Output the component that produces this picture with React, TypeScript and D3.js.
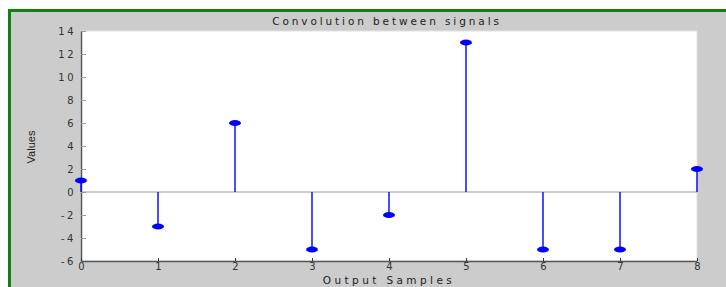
import React, { useRef, useEffect } from "react";
import * as d3 from "d3";

// output sample index and convolution values
const samples = [0, 1, 2, 3, 4, 5, 6, 7, 8];
const values = [1, -3, 6, -5, -2, 13, -5, -5, 2];
const yTicks = [-6, -4, -2, 0, 2, 4, 6, 8, 10, 12, 14];
const xTicks = [0, 1, 2, 3, 4, 5, 6, 7, 8];

const W = 726;
const H = 287;

const App = () => {
  const ref = useRef<SVGSVGElement>(null);

  useEffect(() => {
    const svg = d3.select(ref.current);
    svg.selectAll("*").remove();

    const margin = { top: 31, right: 29, bottom: 26, left: 81 };
    const width = W - margin.left - margin.right;
    const height = H - margin.top - margin.bottom;
    const font = "'DejaVu Sans', Verdana, sans-serif";

    // figure background with green frame
    svg.append("rect").attr("width", W).attr("height", H).attr("fill", "#fff");
    svg
      .append("rect")
      .attr("x", 9.5)
      .attr("y", 10.5)
      .attr("width", W + 10)
      .attr("height", H + 10)
      .attr("fill", "#cccccc")
      .attr("stroke", "#118011")
      .attr("stroke-width", 3);

    const g = svg.append("g").attr("transform", `translate(${margin.left},${margin.top})`);

    const x = d3.scaleLinear().domain([0, 8]).range([0, width]);
    const y = d3.scaleLinear().domain([-6, 14]).range([height, 0]);

    // plot area
    g.append("rect")
      .attr("width", width)
      .attr("height", height)
      .attr("fill", "#fff")
      .attr("stroke", "#e2e2e2");

    // y axis
    const yAxis = g
      .append("g")
      .call(
        d3
          .axisLeft(y)
          .tickValues(yTicks)
          .tickFormat((d) => String(d))
          .tickSizeInner(-5)
          .tickSizeOuter(0)
          .tickPadding(5)
      );
    yAxis.select(".domain").attr("stroke", "#555").attr("stroke-width", 1.5);
    yAxis.selectAll("line").attr("stroke", "#999");
    yAxis
      .selectAll("text")
      .style("font-family", font)
      .style("font-size", "10px")
      .style("letter-spacing", "2.5px")
      .attr("fill", "#333");

    // x axis
    const xAxis = g
      .append("g")
      .attr("transform", `translate(0,${height})`)
      .call(
        d3
          .axisBottom(x)
          .tickValues(xTicks)
          .tickFormat((d) => String(d))
          .tickSizeInner(-3)
          .tickSizeOuter(0)
          .tickPadding(2)
      );
    xAxis.select(".domain").attr("stroke", "#555").attr("stroke-width", 1.5);
    xAxis.selectAll("line").attr("stroke", "#333");
    xAxis
      .selectAll("text")
      .style("font-family", font)
      .style("font-size", "10px")
      .attr("fill", "#333");

    // baseline at zero
    g.append("line")
      .attr("x1", 0)
      .attr("x2", width)
      .attr("y1", y(0))
      .attr("y2", y(0))
      .attr("stroke", "#999")
      .attr("stroke-width", 1.2);

    const data = samples.map((s, i) => ({ s, v: values[i] }));

    // stems
    g.selectAll(".stem")
      .data(data)
      .enter()
      .append("line")
      .attr("x1", (d) => x(d.s))
      .attr("x2", (d) => x(d.s))
      .attr("y1", y(0))
      .attr("y2", (d) => y(d.v))
      .attr("stroke", "#0000ff")
      .attr("stroke-width", 1.4);

    // markers
    g.selectAll(".mark")
      .data(data)
      .enter()
      .append("ellipse")
      .attr("cx", (d) => x(d.s))
      .attr("cy", (d) => y(d.v))
      .attr("rx", 6)
      .attr("ry", 3)
      .attr("fill", "#0000ff");

    // title and labels
    svg
      .append("text")
      .attr("x", margin.left + width / 2 - 2)
      .attr("y", 25)
      .attr("text-anchor", "middle")
      .style("font-family", font)
      .style("font-size", "10.5px")
      .style("letter-spacing", "2.9px")
      .attr("fill", "#222")
      .text("Convolution between signals");

    svg
      .append("text")
      .attr("x", margin.left + width / 2)
      .attr("y", 284)
      .attr("text-anchor", "middle")
      .style("font-family", font)
      .style("font-size", "10.5px")
      .style("letter-spacing", "3.4px")
      .attr("fill", "#222")
      .text("Output Samples");

    svg
      .append("text")
      .attr("transform", `translate(35,147) rotate(-90)`)
      .attr("text-anchor", "middle")
      .style("font-family", "Arial, 'Liberation Sans', sans-serif")
      .style("font-size", "11px")
      .attr("fill", "#222")
      .text("Values");
  }, []);

  return (
    <svg
      ref={ref}
      width={W}
      height={H}
      style={{ position: "absolute", left: 0, top: 0, display: "block" }}
    />
  );
};

export default App;
